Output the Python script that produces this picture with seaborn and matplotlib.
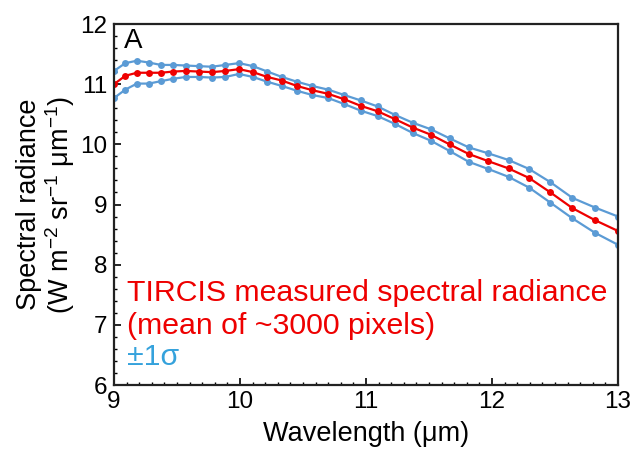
import numpy as np
import pandas as pd
import matplotlib
matplotlib.use("Agg")
import matplotlib.pyplot as plt
from matplotlib.ticker import MultipleLocator
import seaborn as sns

# Wavelength samples (um)
wavelength = [9.000, 9.090, 9.182, 9.276, 9.372, 9.470, 9.570, 9.672,
              9.776, 9.883, 9.992, 10.103, 10.217, 10.333, 10.453, 10.574,
              10.699, 10.827, 10.958, 11.092, 11.229, 11.370, 11.515, 11.663,
              11.815, 11.971, 12.131, 12.295, 12.464, 12.638, 12.817, 13.000]

# Mean measured spectral radiance (W m-2 sr-1 um-1)
radiance_mean = [11.00, 11.14, 11.19, 11.19, 11.19, 11.21, 11.22, 11.21,
                 11.20, 11.22, 11.25, 11.20, 11.12, 11.06, 10.97, 10.90,
                 10.84, 10.75, 10.64, 10.55, 10.42, 10.28, 10.16, 10.00,
                 9.84, 9.72, 9.60, 9.44, 9.20, 8.94, 8.74, 8.56]

# Mean + 1 sigma
radiance_upper = [11.22, 11.35, 11.39, 11.36, 11.32, 11.32, 11.31, 11.30,
                  11.29, 11.32, 11.35, 11.30, 11.21, 11.12, 11.04, 10.97,
                  10.91, 10.82, 10.73, 10.63, 10.49, 10.36, 10.25, 10.10,
                  9.95, 9.85, 9.74, 9.59, 9.37, 9.11, 8.95, 8.80]

# Mean - 1 sigma
radiance_lower = [10.77, 10.91, 11.01, 11.01, 11.05, 11.09, 11.12, 11.12,
                  11.11, 11.12, 11.17, 11.12, 11.04, 10.97, 10.89, 10.82,
                  10.77, 10.67, 10.56, 10.47, 10.34, 10.19, 10.06, 9.89,
                  9.71, 9.59, 9.46, 9.28, 9.03, 8.77, 8.53, 8.33]

x_ticks = [9, 10, 11, 12, 13]
y_ticks = [6, 7, 8, 9, 10, 11, 12]

df = pd.DataFrame({
    "wavelength": wavelength,
    "mean": radiance_mean,
    "upper": radiance_upper,
    "lower": radiance_lower,
})

sns.set_style("white")
plt.rcParams["font.family"] = ["Liberation Sans", "DejaVu Sans"]
plt.rcParams["mathtext.default"] = "regular"
for key in ["text.color", "axes.labelcolor", "xtick.color", "ytick.color"]:
    plt.rcParams[key] = "black"

RED = "#EE0000"
BLUE = "#5B9BD5"
SIGMA_TEXT = "#35A2DC"

fig = plt.figure(figsize=(6.38, 4.49), dpi=100)
ax = fig.add_axes([0.1787, 0.1425, 0.79, 0.804])

line_kw = dict(marker="o", markersize=5, markeredgewidth=0, linewidth=1.6,
               ax=ax, legend=False)
sns.lineplot(data=df, x="wavelength", y="upper", color=BLUE, **line_kw)
sns.lineplot(data=df, x="wavelength", y="lower", color=BLUE, **line_kw)
sns.lineplot(data=df, x="wavelength", y="mean", color=RED, **line_kw)

ax.set_xlim(9, 13)
ax.set_ylim(6, 12)
ax.set_xticks(x_ticks)
ax.set_yticks(y_ticks)
ax.xaxis.set_minor_locator(MultipleLocator(0.1))
ax.yaxis.set_minor_locator(MultipleLocator(0.2))
ax.tick_params(axis="both", which="major", direction="in", length=5,
               width=1.2, labelsize=17.5, color="black",
               top=False, right=False, bottom=True, left=True)
ax.tick_params(axis="x", which="major", pad=4)
ax.tick_params(axis="y", which="major", pad=5)
ax.tick_params(axis="both", which="minor", direction="in", length=2.5,
               width=1.0, color="black", top=False, right=False,
               bottom=True, left=True)

for side in ["left", "right", "top", "bottom"]:
    ax.spines[side].set_visible(True)
    ax.spines[side].set_color("#222222")
    ax.spines[side].set_linewidth(1.6)

ax.set_xlabel("Wavelength (\u03bcm)", fontsize=19.5, labelpad=6)
ax.set_ylabel("Spectral radiance\n(W m$^{-2}$ sr$^{-1}$ \u03bcm$^{-1}$)",
              fontsize=19.5, labelpad=2, linespacing=1.05)

ax.text(9.08, 11.72, "A", fontsize=20, color="black", va="center", ha="left")
ax.text(9.10, 7.53, "TIRCIS measured spectral radiance", fontsize=21.8,
        color=RED, va="center", ha="left")
ax.text(9.10, 6.98, "(mean of ~3000 pixels)", fontsize=21.8,
        color=RED, va="center", ha="left")
ax.text(9.10, 6.47, "\u00b11\u03c3", fontsize=21.8,
        color=SIGMA_TEXT, va="center", ha="left")

fig.savefig("out.png", dpi=100)
